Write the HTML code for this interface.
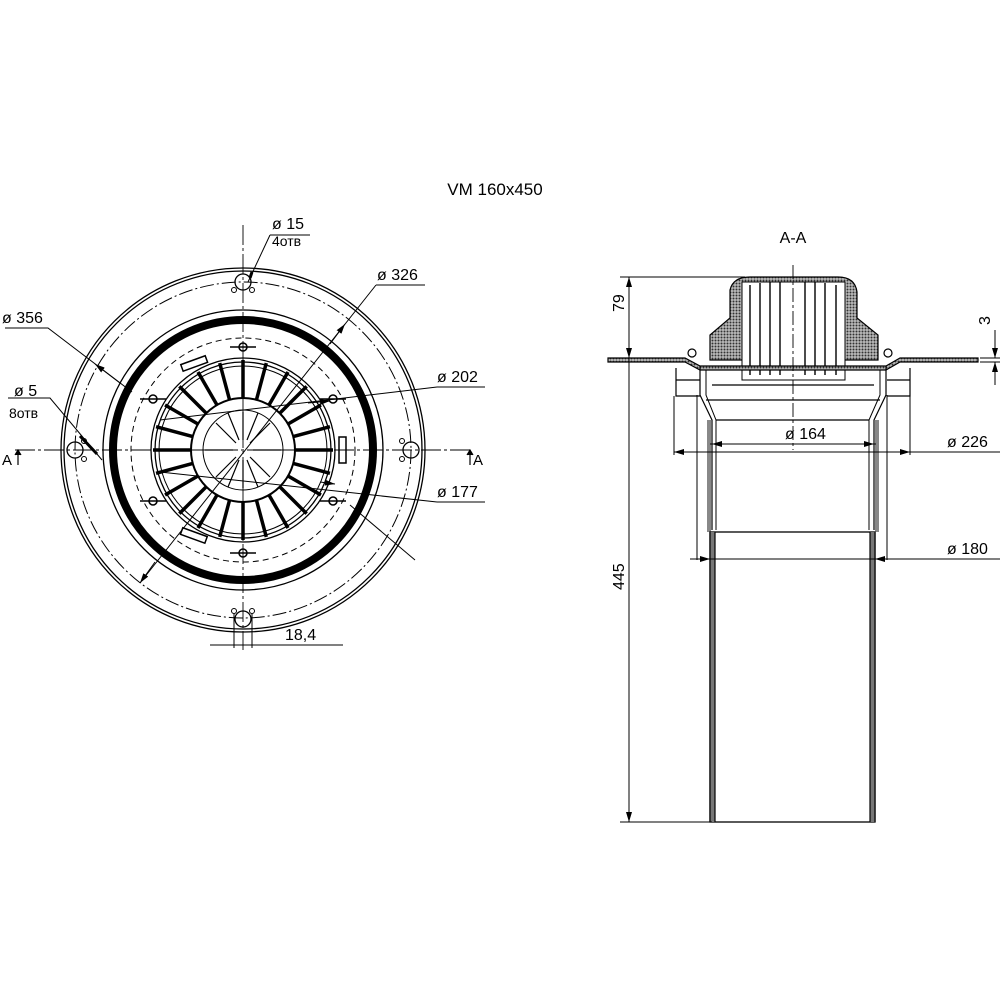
<!DOCTYPE html>
<html><head><style>html,body{margin:0;padding:0;background:#fff}svg{display:block}</style></head><body>
<svg width="1000" height="1000" viewBox="0 0 1000 1000" xmlns="http://www.w3.org/2000/svg" font-family="Liberation Sans, sans-serif" fill="none" stroke="#000">
<defs>
<marker id="ar" markerWidth="10" markerHeight="6" refX="10" refY="3" orient="auto" markerUnits="userSpaceOnUse"><path d="M0,0L10,3L0,6z" fill="#000" stroke="none"/></marker>
<pattern id="hx" width="3" height="3" patternUnits="userSpaceOnUse"><rect width="3" height="3" fill="#bbb" stroke="none"/><circle cx="1.5" cy="1.5" r="1" fill="#333" stroke="none"/></pattern>
</defs>
<text x="495" y="195" font-size="17" fill="#000" stroke="none" text-anchor="middle">VM 160x450</text>

<!-- LEFT VIEW -->
<g stroke-width="1.3">
<circle cx="243" cy="450" r="182"/>
<circle cx="243" cy="450" r="179"/>
<circle cx="243" cy="450" r="168" stroke-dasharray="14,3,2,3" stroke-width="1"/>
<circle cx="243" cy="450" r="140"/>
<circle cx="243" cy="450" r="130" stroke-width="8"/>
<circle cx="243" cy="450" r="112" stroke-dasharray="6,4" stroke-width="1"/>
<circle cx="243" cy="450" r="92"/>
<circle cx="243" cy="450" r="88"/>
<circle cx="243" cy="450" r="84" stroke-width="1"/>
<circle cx="243" cy="450" r="52" stroke-width="2"/>
<circle cx="243" cy="450" r="40" stroke-width="1"/>
<!-- holes -->
<circle cx="243" cy="282" r="8"/><circle cx="243" cy="619" r="8"/>
<circle cx="75" cy="450" r="8"/><circle cx="411" cy="450" r="8"/>
<g stroke-width="1"><circle cx="234" cy="290" r="2.5"/><circle cx="252" cy="290" r="2.5"/>
<circle cx="234" cy="611" r="2.5"/><circle cx="252" cy="611" r="2.5"/>
<circle cx="84" cy="441" r="2.5"/><circle cx="84" cy="459" r="2.5"/>
<circle cx="402" cy="441" r="2.5"/><circle cx="402" cy="459" r="2.5"/></g>
<!-- lugs -->
<g stroke-width="1.5">
<path d="M230 347h26M230 553h26M140 399h26M320 399h26M140 501h26M320 501h26"/>
<circle cx="243" cy="347" r="4"/><circle cx="243" cy="553" r="4"/><circle cx="153" cy="399" r="4"/><circle cx="333" cy="399" r="4"/><circle cx="153" cy="501" r="4"/><circle cx="333" cy="501" r="4"/>
</g>
<rect x="339" y="437" width="7" height="26" stroke-width="1.5"/>
<rect x="181" y="360" width="26" height="7" transform="rotate(-20 194 363)" stroke-width="1.5"/>
<rect x="181" y="532" width="26" height="7" transform="rotate(20 194 535)" stroke-width="1.5"/>
<!-- spokes -->
<g stroke-width="3.5">
<path d="M243 398V360" transform="rotate(0 243 450)"/>
<path d="M243 398V360" transform="rotate(15 243 450)"/>
<path d="M243 398V360" transform="rotate(30 243 450)"/>
<path d="M243 398V360" transform="rotate(45 243 450)"/>
<path d="M243 398V360" transform="rotate(60 243 450)"/>
<path d="M243 398V360" transform="rotate(75 243 450)"/>
<path d="M243 398V360" transform="rotate(90 243 450)"/>
<path d="M243 398V360" transform="rotate(105 243 450)"/>
<path d="M243 398V360" transform="rotate(120 243 450)"/>
<path d="M243 398V360" transform="rotate(135 243 450)"/>
<path d="M243 398V360" transform="rotate(150 243 450)"/>
<path d="M243 398V360" transform="rotate(165 243 450)"/>
<path d="M243 398V360" transform="rotate(180 243 450)"/>
<path d="M243 398V360" transform="rotate(195 243 450)"/>
<path d="M243 398V360" transform="rotate(210 243 450)"/>
<path d="M243 398V360" transform="rotate(225 243 450)"/>
<path d="M243 398V360" transform="rotate(240 243 450)"/>
<path d="M243 398V360" transform="rotate(255 243 450)"/>
<path d="M243 398V360" transform="rotate(270 243 450)"/>
<path d="M243 398V360" transform="rotate(285 243 450)"/>
<path d="M243 398V360" transform="rotate(300 243 450)"/>
<path d="M243 398V360" transform="rotate(315 243 450)"/>
<path d="M243 398V360" transform="rotate(330 243 450)"/>
<path d="M243 398V360" transform="rotate(345 243 450)"/>
</g>
<g stroke-width="1.2">
<path d="M243 440V412M243 460V488M233 450H205M253 450H281M236 443L216 423M250 443L270 423M236 457L216 477M250 457L270 477M239 440L228 413M247 440L258 413M239 460L228 487M247 460L258 487"/>
</g>
</g>
<!-- center lines -->
<g stroke-width="0.9">
<path d="M243 225V650M15 450H470" stroke-dasharray="20,3,3,3"/>
</g>
<!-- section markers -->
<g stroke-width="1.2"><path d="M18 465V452M470 465V452"/><path d="M15 455l3-5 3 5M467 455l3-5 3 5" fill="#000"/></g>
<text x="2" y="465" font-size="15" fill="#000" stroke="none">A</text>
<text x="473" y="465" font-size="15" fill="#000" stroke="none">A</text>

<!-- dimension leaders left -->
<g stroke-width="1" fill="#000" font-size="16">
<path d="M5 328H48L132 392" fill="none"/><path d="M120 383L95 364" marker-end="url(#ar)" fill="none"/>
<text x="2" y="323" stroke="none">ø  356</text>
<path d="M8 398H50L102 460" fill="none"/><path d="M80 436L97 454" fill="none" stroke-width="3"/>
<text x="14" y="396" stroke="none">ø  5</text>
<text x="9" y="418" stroke="none" font-size="14">8отв</text>
<path d="M270 235H310" fill="none"/><path d="M270 235L248 282" fill="none"/><path d="M250 278l2-6" stroke-width="3" fill="none"/>
<text x="272" y="229" stroke="none">ø  15</text>
<text x="272" y="246" stroke="none" font-size="14">4отв</text>
<path d="M376 285H425M376 285L140 583" fill="none"/><path d="M155 562L140 583" marker-end="url(#ar)" fill="none"/><path d="M330 344L345 324" marker-end="url(#ar)" fill="none"/>
<text x="377" y="280" stroke="none">ø  326</text>
<path d="M437 387H485M437 387L160 420" fill="none"/><path d="M308 403L330 401" marker-end="url(#ar)" fill="none"/>
<text x="437" y="382" stroke="none">ø  202</text>
<path d="M437 502H485M437 502L160 472" fill="none"/><path d="M320 482L335 484" marker-end="url(#ar)" fill="none"/>
<path d="M350 505L415 560" fill="none"/>
<text x="437" y="497" stroke="none">ø  177</text>
<path d="M234 614V648M252 614V648M210 645H343" fill="none"/>
<text x="285" y="640" stroke="none">18,4</text>
</g>

<!-- RIGHT VIEW -->
<text x="793" y="243" font-size="16" fill="#000" stroke="none" text-anchor="middle">A-A</text>
<g stroke-width="1.2">
<!-- dome -->
<path d="M730 290Q733 277 750 277H838Q855 277 857 292V318L878 335V360H710V335L730 318Z" fill="url(#hx)"/>
<path d="M742 282H845V380H742Z" fill="#fff" stroke-width="1"/>
<g stroke-width="1.4"><path d="M750 285V375M760 283V375M770 282V375M780 282V375M805 282V375M815 282V375M825 283V375M836 285V375"/></g>
<!-- flange -->
<path d="M608 358H685L700 366H886L900 358H978V362H900L886 370H700L685 362H608Z" fill="url(#hx)"/>
<circle cx="692" cy="353" r="4"/><circle cx="888" cy="353" r="4"/>
<!-- under flange boxes -->
<path d="M676 368V396H700M910 368V396H887M676 380H700M887 380H910"/>
<!-- body -->
<path d="M700 366V395L712 420V530M886 366V395L874 420V530"/>
<path d="M706 370V395L716 420V530M880 370V395L869 420V530" stroke-width="1"/>
<path d="M712 385H874M706 400H880M716 420H869"/>
<path d="M709 420V532M877 420V532" stroke-width="4" stroke="#888"/>
<!-- pipe -->
<rect x="710" y="532" width="165" height="290" stroke-width="1.3"/>
<path d="M712.5 532V822M872.5 532V822" stroke="#777" stroke-width="5"/>
<path d="M710 532V822M875 532V822M715 532V822M870 532V822"/>
<path d="M793 265V450" stroke-dasharray="14,3,3,3" stroke-width="0.9"/>
</g>
<!-- right dims -->
<g stroke-width="1" font-size="16" fill="#000">
<path d="M620 277H745M620 822H712M629 277V822" fill="none"/>
<path d="M629 330L629 277" marker-end="url(#ar)" fill="none"/><path d="M629 330L629 358" marker-end="url(#ar)" fill="none"/>
<path d="M629 780L629 822" marker-end="url(#ar)" fill="none"/>
<text transform="translate(624 312) rotate(-90)" stroke="none">79</text>
<text transform="translate(624 590) rotate(-90)" stroke="none">445</text>
<path d="M710 444H876" fill="none"/><path d="M740 444H712" marker-end="url(#ar)" fill="none"/><path d="M845 444H874" marker-end="url(#ar)" fill="none"/>
<text x="785" y="439" stroke="none">ø  164</text>
<path d="M674 396V455M910 396V455M674 452H1000" fill="none"/><path d="M700 452H674" marker-end="url(#ar)" fill="none"/><path d="M890 452H910" marker-end="url(#ar)" fill="none"/>
<text x="947" y="447" stroke="none">ø  226</text>
<path d="M697 395V560M887 395V560M697 559H1000" fill="none"/><path d="M690 559H710" marker-end="url(#ar)" fill="none"/><path d="M895 559H875" marker-end="url(#ar)" fill="none"/>
<text x="947" y="554" stroke="none">ø  180</text>
<path d="M980 358H1000M980 362H1000M995 330V358M995 385V362" fill="none"/>
<path d="M995 340L995 358" marker-end="url(#ar)" fill="none"/><path d="M995 380L995 362" marker-end="url(#ar)" fill="none"/>
<text transform="translate(990 325) rotate(-90)" stroke="none">3</text>
</g>
</svg>
</body></html>
